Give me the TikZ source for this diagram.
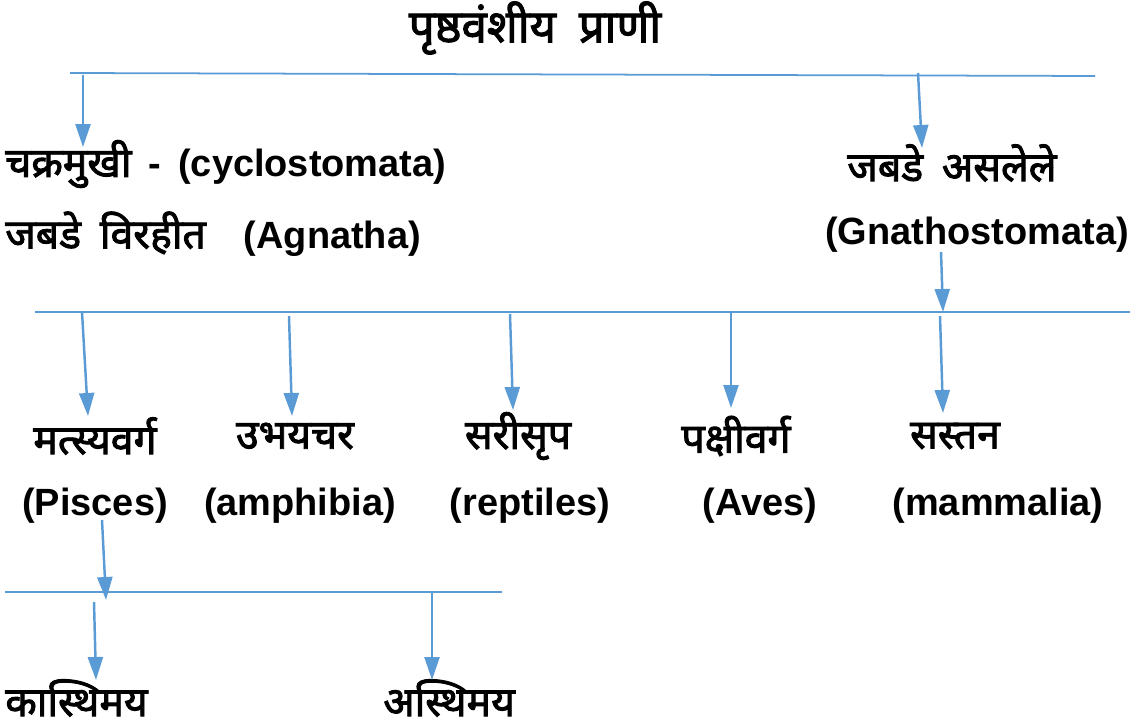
\documentclass[tikz,border=0pt]{standalone}
\usepackage{fontspec}
\setmainfont{Liberation Sans}
\newfontfamily\deva[Script=Devanagari,Scale=1.08,AutoFakeBold=2.2]{Noto Sans}
\usepackage{tikz}
\usetikzlibrary{arrows.meta, positioning, calc}
\definecolor{linkblue}{HTML}{5B9BD5}

\begin{document}
\begin{tikzpicture}[x=0.02cm,y=-0.02cm,>={Triangle[length=0.46cm,width=0.3cm]},
		bar/.style={linkblue,line width=1pt},
		link/.style={->,linkblue,line width=1.4pt},
		main node/.style={font=\fontsize{21.6}{25}\selectfont\bfseries,inner sep=0pt}]
		\useasboundingbox (0,0) rectangle (1131,726);
		
		% heading and first split
		\node[main node,font=\fontsize{24}{28}\selectfont\bfseries] (root) at (535,28) {\deva पृष्ठवंशीय\hspace{0.5em}प्राणी};
		\node[main node,anchor=west] (cyclo) at (5,164) {{\deva चक्रमुखी}\hspace{0.45em}-\hspace{0.45em}(cyclostomata)};
		\node[main node,anchor=west] (agna) at (5,234) {{\deva जबडे\hspace{0.2em} विरहीत}\hspace{1.0em}(Agnatha)};
		\node[main node] (jaw) at (952,163) {\deva जबडे\hspace{0.2em} असलेले};
		\node[main node] (gnatho) at (977,235) {(Gnathostomata)};
		
		% classes
		\node[main node] (pisc) at (95,436) {\deva मत्स्यवर्ग};
		\node[main node] (amph) at (295,436) {\deva उभयचर};
		\node[main node] (rept) at (518,436) {\deva सरीसृप};
		\node[main node] (aves) at (736,436) {\deva पक्षीवर्ग};
		\node[main node] (mamm) at (955,436) {\deva सस्तन};
		\node[main node] (piscL) at (95,506) {(Pisces)};
		\node[main node] (amphL) at (300,506) {(amphibia)};
		\node[main node] (reptL) at (530,506) {(reptiles)};
		\node[main node] (avesL) at (760,506) {(Aves)};
		\node[main node] (mammL) at (998,506) {(mammalia)};
		
		% fishes
		\node[main node,anchor=west] (carti) at (5,698) {\deva कास्थिमय};
		\node[main node,anchor=west] (bony) at (383,698) {\deva अस्थिमय};
		
		% bars
		\coordinate (b1l) at (70,73);
		\coordinate (b1r) at (1095,76);
		\coordinate (b2l) at (35,312);
		\coordinate (b2r) at (1130,312);
		\coordinate (b3l) at (5,592);
		\coordinate (b3r) at (502,592);
		\draw[bar] (b1l) -- (b1r);
		\draw[bar] (b2l) -- (b2r);
		\draw[bar] (b3l) -- (b3r);
		
		% arrow ends
		\coordinate (s1) at (83,75);   \coordinate (e1) at (83,147);
		\coordinate (s2) at (918,73);  \coordinate (e2) at (922,148);
		\coordinate (s3) at (941,252); \coordinate (e3) at (943,312);
		\coordinate (s4) at (82,312);  \coordinate (e4) at (88,416);
		\coordinate (s5) at (289,316); \coordinate (e5) at (292,416);
		\coordinate (s6) at (510,314); \coordinate (e6) at (513,410);
		\coordinate (s7) at (731,312); \coordinate (e7) at (731,408);
		\coordinate (s8) at (940,316); \coordinate (e8) at (943,413);
		\coordinate (s9) at (102,520); \coordinate (e9) at (106,600);
		\coordinate (s10) at (94,602); \coordinate (e10) at (96,680);
		\coordinate (s11) at (432,593); \coordinate (e11) at (432,680);
		
		\path[link]
		(s1) edge (e1)
		(s2) edge (e2)
		(s3) edge (e3)
		(s4) edge (e4)
		(s5) edge (e5)
		(s6) edge (e6)
		(s7) edge (e7)
		(s8) edge (e8)
		(s9) edge (e9)
		(s10) edge (e10)
		(s11) edge (e11);
		
	\end{tikzpicture}
\end{document}
